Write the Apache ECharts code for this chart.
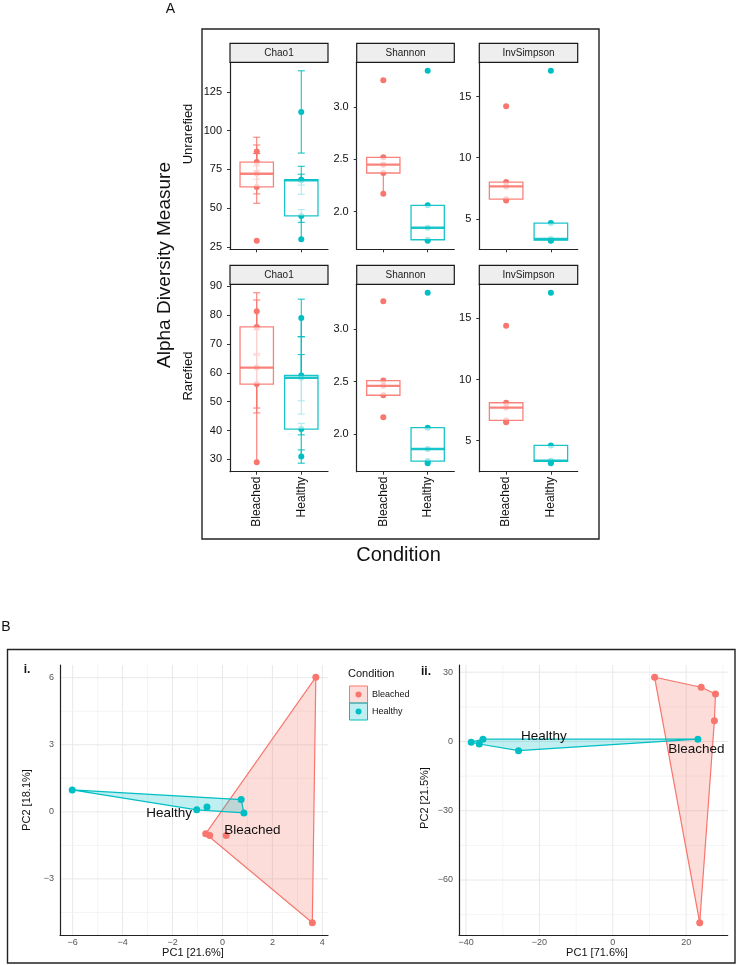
<!DOCTYPE html>
<html><head><meta charset="utf-8">
<script src="https://cdn.jsdelivr.net/npm/echarts@6/dist/echarts.min.js"></script>
<style>html,body{margin:0;padding:0;background:#fff}#c{width:736px;height:965px}</style>
</head><body><div id="c"></div><script>
// ---------------- DATA ----------------
const conditions = ['Bleached', 'Healthy'];
const measures = ['Chao1', 'Shannon', 'InvSimpson'];
const rarefaction = ['Unrarefied', 'Rarefied'];

// Chao1 (values with standard errors)
const chao1UnrBleached   = [29, 63.7, 72.2, 79.7, 86.5];
const chao1UnrBleachedSe = [0, 10.5, 13, 11, 9.2];
const chao1UnrHealthy    = [30, 45, 68, 68.4, 112];
const chao1UnrHealthySe  = [0, 4.1, 9, 3.5, 26.5];
const chao1RarBleached   = [29, 56.1, 61.8, 75.9, 81.3];
const chao1RarBleachedSe = [0, 10, 14, 9.3, 6.4];
const chao1RarHealthy    = [31, 40.5, 58.3, 59.1, 79];
const chao1RarHealthySe  = [2.3, 2, 8, 13.4, 6.5];
// Shannon
const shannonUnrBleached = [2.17, 2.37, 2.45, 2.52, 3.26];
const shannonUnrHealthy  = [1.72, 1.73, 1.845, 2.06, 3.35];
const shannonRarBleached = [2.16, 2.37, 2.46, 2.51, 3.27];
const shannonRarHealthy  = [1.72, 1.74, 1.855, 2.06, 3.35];
// InvSimpson
const invSimpsonUnrBleached = [6.5, 6.6, 7.65, 8.0, 14.2];
const invSimpsonUnrHealthy  = [3.2, 3.25, 3.35, 4.65, 17.1];
const invSimpsonRarBleached = [6.5, 6.65, 7.7, 8.1, 14.4];
const invSimpsonRarHealthy  = [3.15, 3.3, 3.35, 4.6, 17.1];

// tick labels (panel A)
const chao1UnrTicks = [25, 50, 75, 100, 125];
const chao1RarTicks = [30, 40, 50, 60, 70, 80, 90];
const shannonTicks = [2.0, 2.5, 3.0];
const invSimpsonTicks = [5, 10, 15];

// PCA i.
const pcaIBleachedPC1 = [3.74, 3.6, -0.67, -0.51, 0.15];
const pcaIBleachedPC2 = [6.02, -4.96, -0.98, -1.06, -1.06];
const pcaIHealthyPC1  = [-6.02, -1.03, -0.62, 0.75, 0.86];
const pcaIHealthyPC2  = [0.98, 0.09, 0.22, 0.55, -0.05];
const pcaILabelPC1 = [-2.14, 1.2];   // Healthy, Bleached
const pcaILabelPC2 = [-0.07, -0.82];
const pcaIXTicks = [-6, -4, -2, 0, 2, 4];
const pcaIXMinor = [-5, -3, -1, 1, 3];
const pcaIYTicks = [-3, 0, 3, 6];
const pcaIYMinor = [-4.5, -1.5, 1.5, 4.5];

// PCA ii.
const pcaIIBleachedPC1 = [11.4, 24.1, 28, 27.7, 23.7];
const pcaIIBleachedPC2 = [27.8, 23.5, 20.6, 9, -78.5];
const pcaIIHealthyPC1  = [-38.6, -35.4, -36.4, -25.7, 23.2];
const pcaIIHealthyPC2  = [-0.3, 1.0, -1.1, -4.0, 1.0];
const pcaIILabelPC1 = [-18.8, 22.8];
const pcaIILabelPC2 = [2.2, -3.6];
const pcaIIXTicks = [-40, -20, 0, 20];
const pcaIIXMinor = [-30, -10, 10, 30];
const pcaIIYTicks = [-60, -30, 0, 30];
const pcaIIYMinor = [-75, -45, -15, 15];
const pcaLabelNames = ['Healthy', 'Bleached'];

// ---------------- STYLE / LAYOUT ----------------
const FONT = "'Liberation Sans', Arial, Helvetica, sans-serif";
const COLORS = ['#F8766D', '#00BFC4'];
const FILLS = ['rgba(248,118,109,0.25)', 'rgba(0,191,196,0.25)'];
const colLeft = [230, 356.7, 479.3], colWidth = [98, 97.6, 98.4];
const rowTop = [62.3, 284.3], rowHeight = [187, 187.4], stripH = 19;

const panels = [
  {row:0, col:0, groups:[chao1UnrBleached, chao1UnrHealthy], se:[chao1UnrBleachedSe, chao1UnrHealthySe], ticks:chao1UnrTicks, digits:0},
  {row:0, col:1, groups:[shannonUnrBleached, shannonUnrHealthy], ticks:shannonTicks, digits:1},
  {row:0, col:2, groups:[invSimpsonUnrBleached, invSimpsonUnrHealthy], ticks:invSimpsonTicks, digits:0},
  {row:1, col:0, groups:[chao1RarBleached, chao1RarHealthy], se:[chao1RarBleachedSe, chao1RarHealthySe], ticks:chao1RarTicks, digits:0},
  {row:1, col:1, groups:[shannonRarBleached, shannonRarHealthy], ticks:shannonTicks, digits:1},
  {row:1, col:2, groups:[invSimpsonRarBleached, invSimpsonRarHealthy], ticks:invSimpsonTicks, digits:0}
];

function quantile(s, p) {
  const h = (s.length - 1) * p, lo = Math.floor(h), hi = Math.min(lo + 1, s.length - 1);
  return s[lo] + (h - lo) * (s[hi] - s[lo]);
}
function boxStats(vals) {
  const s = vals.slice().sort((a, b) => a - b);
  const q1 = quantile(s, 0.25), med = quantile(s, 0.5), q3 = quantile(s, 0.75), iqr = q3 - q1;
  const inside = s.filter(v => v >= q1 - 1.5 * iqr && v <= q3 + 1.5 * iqr);
  return [inside[0], q1, med, q3, inside[inside.length - 1]];
}
function expandRange(lo, hi) { const d = (hi - lo) * 0.05; return [lo - d, hi + d]; }
function hull(pts) {
  const p = pts.slice().sort((a, b) => a[0] - b[0] || a[1] - b[1]);
  const cross = (o, a, b) => (a[0]-o[0])*(b[1]-o[1]) - (a[1]-o[1])*(b[0]-o[0]);
  const lower = [], upper = [];
  for (const q of p) { while (lower.length >= 2 && cross(lower[lower.length-2], lower[lower.length-1], q) <= 0) lower.pop(); lower.push(q); }
  for (let i = p.length - 1; i >= 0; i--) { const q = p[i]; while (upper.length >= 2 && cross(upper[upper.length-2], upper[upper.length-1], q) <= 0) upper.pop(); upper.push(q); }
  upper.pop(); lower.pop();
  return lower.concat(upper);
}
const minusFmt = v => (v < 0 ? '\u2212' + Math.abs(v) : String(v));

const grids = [], xAxes = [], yAxes = [], series = [], gfx = [];

function renderBox(params, api) {
  const x = api.value(0), c = COLORS[x - 1], hw = 0.375;
  const pMin = api.coord([x, api.value(1)]), pQ1 = api.coord([x, api.value(2)]);
  const pQ3 = api.coord([x, api.value(4)]), pMax = api.coord([x, api.value(5)]);
  const l = api.coord([x - hw, api.value(3)]), r = api.coord([x + hw, api.value(3)]);
  return {type:'group', children:[
    {type:'line', shape:{x1:pMin[0], y1:pMin[1], x2:pQ1[0], y2:pQ1[1]}, style:{stroke:c, lineWidth:1.2, opacity:0.9}},
    {type:'line', shape:{x1:pQ3[0], y1:pQ3[1], x2:pMax[0], y2:pMax[1]}, style:{stroke:c, lineWidth:1.2, opacity:0.9}},
    {type:'rect', shape:{x:l[0], y:pQ3[1], width:r[0]-l[0], height:pQ1[1]-pQ3[1]}, style:{fill:'rgba(255,255,255,0.72)', stroke:c, lineWidth:1.3, opacity:0.9}},
    {type:'line', shape:{x1:l[0], y1:l[1], x2:r[0], y2:r[1]}, style:{stroke:c, lineWidth:2.4, opacity:0.9}}
  ]};
}
function renderErr(params, api) {
  const x = api.value(0), c = COLORS[x - 1];
  const a = api.coord([x, api.value(1)]), b = api.coord([x, api.value(2)]);
  const w = api.size([0.08, 0])[0];
  const st = {stroke:c, lineWidth:1};
  return {type:'group', children:[
    {type:'line', shape:{x1:a[0], y1:a[1], x2:b[0], y2:b[1]}, style:st},
    {type:'line', shape:{x1:a[0]-w, y1:a[1], x2:a[0]+w, y2:a[1]}, style:st},
    {type:'line', shape:{x1:b[0]-w, y1:b[1], x2:b[0]+w, y2:b[1]}, style:st}
  ]};
}

panels.forEach((pn, i) => {
  grids.push({left:colLeft[pn.col], top:rowTop[pn.row], width:colWidth[pn.col], height:rowHeight[pn.row], outerBoundsMode:'none', containLabel:false});
  let lo = Infinity, hi = -Infinity;
  pn.groups.forEach((g, k) => g.forEach((v, j) => {
    const e = pn.se ? pn.se[k][j] : 0;
    lo = Math.min(lo, v - e); hi = Math.max(hi, v + e);
  }));
  const yr = expandRange(lo, hi);
  xAxes.push({gridIndex:i, type:'value', min:0.4, max:2.6,
    axisLine:{show:true, onZero:false, lineStyle:{color:'#222', width:1.2}},
    axisTick:{show:true, length:3, customValues:[1, 2], lineStyle:{color:'#333', width:1}},
    axisLabel:{show:pn.row === 1, customValues:[1, 2], rotate:90, margin:5, fontSize:12, fontFamily:FONT, color:'#111',
      formatter: v => conditions[Math.round(v) - 1]},
    splitLine:{show:false}});
  yAxes.push({gridIndex:i, type:'value', min:yr[0], max:yr[1],
    axisLine:{show:true, onZero:false, lineStyle:{color:'#222', width:1.2}},
    axisTick:{show:true, length:3, customValues:pn.ticks, lineStyle:{color:'#333', width:1}},
    axisLabel:{show:true, customValues:pn.ticks, margin:8, fontSize:11, fontFamily:FONT, color:'#111',
      formatter: v => Number(v).toFixed(pn.digits)},
    splitLine:{show:false}});
  if (pn.se) {
    const errData = [];
    pn.groups.forEach((g, k) => g.forEach((v, j) => { const e = pn.se[k][j]; if (e > 0) errData.push([k + 1, v - e, v + e]); }));
    series.push({type:'custom', xAxisIndex:i, yAxisIndex:i, silent:true, z:1, renderItem:renderErr, data:errData});
  }
  pn.groups.forEach((g, k) => {
    series.push({type:'scatter', xAxisIndex:i, yAxisIndex:i, silent:true, z:2, symbolSize:6,
      itemStyle:{color:COLORS[k], opacity:1}, data:g.map(v => [k + 1, v])});
  });
  series.push({type:'custom', xAxisIndex:i, yAxisIndex:i, silent:true, z:3, renderItem:renderBox,
    data:pn.groups.map((g, k) => [k + 1].concat(boxStats(g)))});
  // strip header
  gfx.push({type:'rect', shape:{x:colLeft[pn.col], y:rowTop[pn.row] - stripH, width:colWidth[pn.col], height:stripH},
    style:{fill:'#eeeeee', stroke:'#1a1a1a', lineWidth:1.2}, z:10});
  gfx.push({type:'text', x:colLeft[pn.col] + colWidth[pn.col] / 2, y:rowTop[pn.row] - stripH / 2, z:11,
    style:{text:measures[pn.col], fill:'#1a1a1a', font:'10px ' + FONT, textAlign:'center', textVerticalAlign:'middle'}});
});

// ---------------- PCA ----------------
const pcaPanels = [
  {left:60, width:268, b:[pcaIBleachedPC1, pcaIBleachedPC2], h:[pcaIHealthyPC1, pcaIHealthyPC2], lab:[pcaILabelPC1, pcaILabelPC2],
   xt:pcaIXTicks, xm:pcaIXMinor, yt:pcaIYTicks, ym:pcaIYMinor},
  {left:459, width:268.7, b:[pcaIIBleachedPC1, pcaIIBleachedPC2], h:[pcaIIHealthyPC1, pcaIIHealthyPC2], lab:[pcaIILabelPC1, pcaIILabelPC2],
   xt:pcaIIXTicks, xm:pcaIIXMinor, yt:pcaIIYTicks, ym:pcaIIYMinor}
];
pcaPanels.forEach((pp, n) => {
  const i = panels.length + n;
  grids.push({left:pp.left, top:665, width:pp.width, height:270, outerBoundsMode:'none', containLabel:false});
  const groups = [pp.b, pp.h];
  const allX = pp.b[0].concat(pp.h[0]), allY = pp.b[1].concat(pp.h[1]);
  const xr = expandRange(Math.min(...allX), Math.max(...allX));
  const yr = expandRange(Math.min(...allY), Math.max(...allY));
  xAxes.push({gridIndex:i, type:'value', min:xr[0], max:xr[1],
    axisLine:{show:true, onZero:false, lineStyle:{color:'#222', width:1.2}}, axisTick:{show:false, customValues:pp.xt},
    axisLabel:{show:true, customValues:pp.xt, margin:3, fontSize:9, fontFamily:FONT, color:'#555', formatter:minusFmt},
    splitLine:{show:false}});
  yAxes.push({gridIndex:i, type:'value', min:yr[0], max:yr[1],
    axisLine:{show:true, onZero:false, lineStyle:{color:'#222', width:1.2}}, axisTick:{show:false, customValues:pp.yt},
    axisLabel:{show:true, customValues:pp.yt, margin:6, fontSize:9, fontFamily:FONT, color:'#555', formatter:minusFmt},
    splitLine:{show:false}});
  const gl = [];
  pp.xt.forEach(v => gl.push([v, yr[0], 0, 1])); pp.xm.forEach(v => gl.push([v, yr[0], 0, 0]));
  pp.yt.forEach(v => gl.push([xr[0], v, 1, 1])); pp.ym.forEach(v => gl.push([xr[0], v, 1, 0]));
  series.push({type:'custom', xAxisIndex:i, yAxisIndex:i, silent:true, z:0, data:gl,
    renderItem:(params, api) => {
      const cs = params.coordSys, p = api.coord([api.value(0), api.value(1)]), major = api.value(3) === 1;
      const shape = api.value(2) === 0 ? {x1:p[0], y1:cs.y, x2:p[0], y2:cs.y + cs.height}
                                       : {x1:cs.x, y1:p[1], x2:cs.x + cs.width, y2:p[1]};
      return {type:'line', shape, style:{stroke: major ? '#e8e8e8' : '#f1f1f1', lineWidth: major ? 1 : 0.8}};
    }});
  groups.forEach((g, k) => {
    const pts = g[0].map((x, j) => [x, g[1][j]]);
    const hl = hull(pts);
    series.push({type:'custom', xAxisIndex:i, yAxisIndex:i, silent:true, z:1, data:[hl[0]],
      renderItem:(params, api) => ({type:'polygon', shape:{points:hl.map(p => api.coord(p))},
        style:{fill:FILLS[k], stroke:COLORS[k], lineWidth:1.2}})});
  });
  groups.forEach((g, k) => {
    series.push({type:'scatter', xAxisIndex:i, yAxisIndex:i, silent:true, z:3, symbolSize:7,
      itemStyle:{color:COLORS[k], opacity:1}, data:g[0].map((x, j) => [x, g[1][j]])});
  });
  series.push({type:'custom', xAxisIndex:i, yAxisIndex:i, silent:true, z:4,
    data:pp.lab[0].map((x, j) => [x, pp.lab[1][j]]),
    renderItem:(params, api) => {
      const p = api.coord([api.value(0), api.value(1)]);
      return {type:'text', x:p[0], y:p[1], style:{text:pcaLabelNames[params.dataIndex], fill:'#111',
        font:'13.5px ' + FONT, textAlign:'center', textVerticalAlign:'middle', align:'center', verticalAlign:'middle'}};
    }});
});

// ---------------- ANNOTATIONS ----------------
function txt(x, y, text, size, opts) {
  opts = opts || {};
  return Object.assign({type:'text', x, y, rotation:opts.rot || 0, z:20,
    style:{text, fill:opts.fill || '#111', font:(opts.bold ? 'bold ' : '') + size + 'px ' + FONT,
      textAlign:opts.align || 'center', textVerticalAlign:'middle'}});
}
gfx.push({type:'rect', shape:{x:202, y:29, width:397, height:510}, style:{fill:'none', stroke:'#222', lineWidth:1.4}, z:5});
gfx.push({type:'rect', shape:{x:7.5, y:649.5, width:727.5, height:313.5}, style:{fill:'none', stroke:'#222', lineWidth:1.4}, z:5});
gfx.push(txt(170.3, 9.5, 'A', 14));
gfx.push(txt(6, 627.5, 'B', 14));
gfx.push(txt(165, 265, 'Alpha Diversity Measure', 19, {rot:Math.PI / 2}));
gfx.push(txt(188, 134, rarefaction[0], 13, {rot:Math.PI / 2}));
gfx.push(txt(188, 376, rarefaction[1], 13, {rot:Math.PI / 2}));
gfx.push(txt(398.5, 555, 'Condition', 20));
gfx.push(txt(27, 670, 'i.', 12, {bold:true}));
gfx.push(txt(426, 672, 'ii.', 12, {bold:true}));
gfx.push(txt(193, 953, 'PC1 [21.6%]', 11));
gfx.push(txt(27, 800, 'PC2 [18.1%]', 11, {rot:Math.PI / 2}));
gfx.push(txt(597, 953, 'PC1 [71.6%]', 11));
gfx.push(txt(425, 798, 'PC2 [21.5%]', 11, {rot:Math.PI / 2}));
// legend
gfx.push(txt(348, 673.5, 'Condition', 11, {align:'left'}));
conditions.forEach((c, k) => {
  const y = 686 + k * 17;
  gfx.push({type:'rect', shape:{x:349.5, y:y, width:18, height:17}, style:{fill:FILLS[k], stroke:COLORS[k], lineWidth:1}, z:20});
  gfx.push({type:'circle', shape:{cx:358.5, cy:y + 8.5, r:3}, style:{fill:COLORS[k]}, z:21});
  gfx.push(txt(372, y + 8.5, c, 9, {align:'left'}));
});

const chart = echarts.init(document.getElementById('c'), null, {renderer:'canvas'});
chart.setOption({
  animation:false, backgroundColor:'#ffffff',
  grid:grids, xAxis:xAxes, yAxis:yAxes, series:series,
  graphic:{elements:gfx}
});
</script></body></html>
